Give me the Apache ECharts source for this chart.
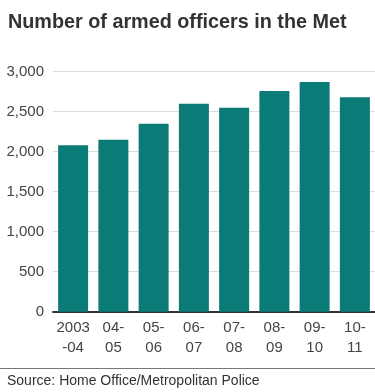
<!DOCTYPE html>
<html lang="en">
<head>
	<meta charset="UTF-8">
	<title>Number of armed officers in the Met</title>
	<script src="https://cdn.jsdelivr.net/npm/echarts@6/dist/echarts.min.js"></script>
	<style>
		html, body { margin: 0; padding: 0; background: #fff; }
		#chart { width: 375px; height: 392px; }
	</style>
</head>
<body>
	<div id="chart"></div>

	<script>
		var years = ['2003\n-04', '04-\n05', '05-\n06', '06-\n07', '07-\n08', '08-\n09', '09-\n10', '10-\n11'];
		var officers = [2080, 2150, 2350, 2600, 2550, 2760, 2870, 2680];
		var yTicks = [0, 500, 1000, 1500, 2000, 2500, 3000];

		var chart = echarts.init(document.getElementById('chart'));
		var font = '"Liberation Sans", Arial, sans-serif';

		var option = {
			backgroundColor: '#fff',
			animation: false,
			title: {
				text: 'Number of armed officers in the Met',
				left: 3,
				top: 8,
				textStyle: { fontFamily: font, fontSize: 19.8, fontWeight: 'bold', color: '#333' }
			},
			grid: { left: 53, right: 0, top: 71.7, bottom: 80.3 },
			xAxis: {
				type: 'category',
				data: years,
				axisLine: { lineStyle: { color: '#333', width: 2 } },
				axisTick: { show: false },
				axisLabel: { interval: 0, hideOverlap: false, fontFamily: font, fontSize: 15, color: '#444', lineHeight: 20, margin: 6 }
			},
			yAxis: {
				type: 'value',
				min: yTicks[0],
				max: yTicks[yTicks.length - 1],
				interval: 500,
				axisLine: { show: false },
				axisTick: { show: false },
				splitLine: { lineStyle: { color: '#dcdcdc', width: 1 } },
				axisLabel: {
					fontFamily: font, fontSize: 15, color: '#444', margin: 9,
					formatter: function (v) { return v.toLocaleString('en-US'); }
				}
			},
			series: [{
				type: 'bar',
				data: officers,
				barWidth: 30,
				itemStyle: { color: '#0b7b78' }
			}],
			graphic: [
				{ type: 'line', shape: { x1: 0, y1: 368.5, x2: 375, y2: 368.5 }, style: { stroke: '#777', lineWidth: 1 } },
				{ type: 'text', left: 7, top: 374, style: { text: 'Source: Home Office/Metropolitan Police', font: '14px ' + font, fill: '#333' } }
			]
		};
		chart.setOption(option);
	</script>
</body>
</html>
